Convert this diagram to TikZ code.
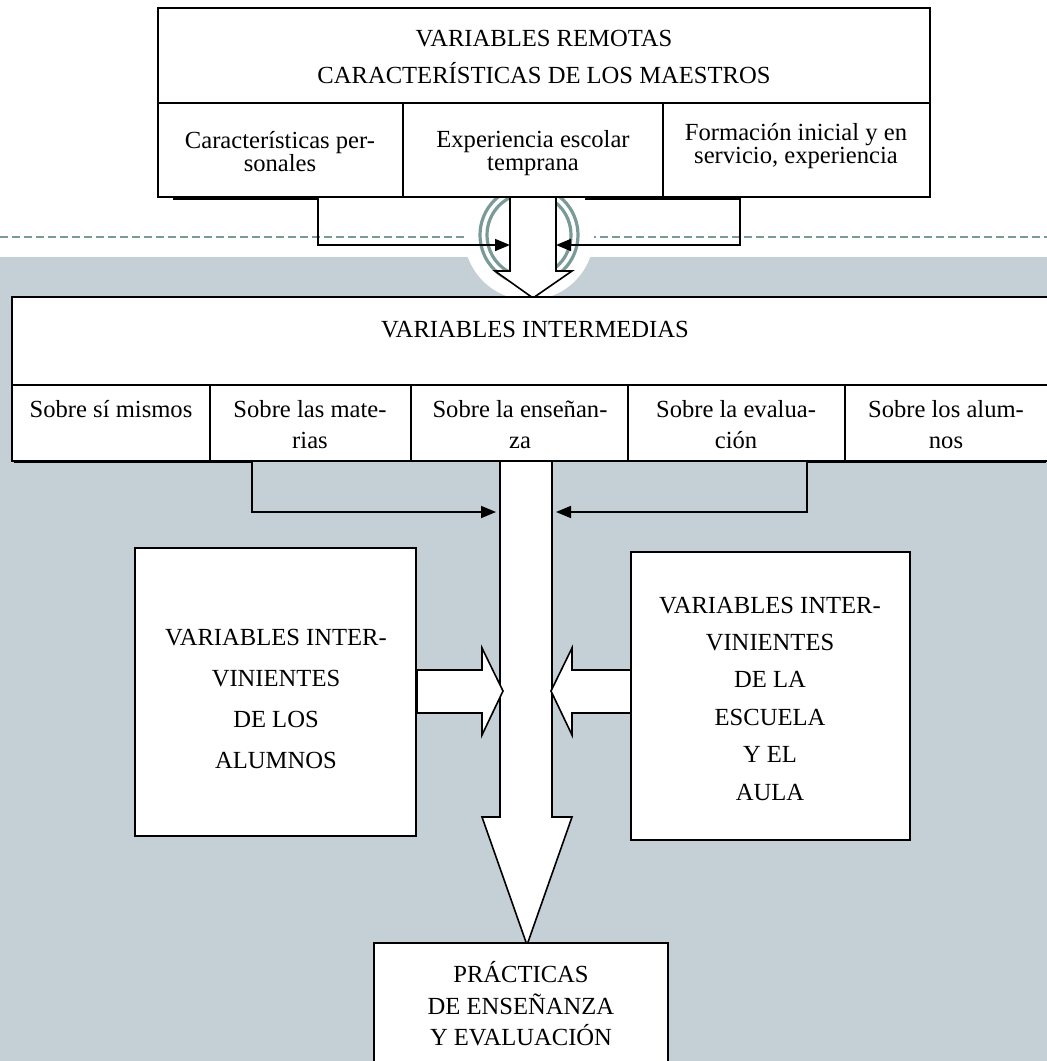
\documentclass[tikz,border=0pt]{standalone}
\usepackage{fontspec}
\setmainfont{Liberation Serif}
\usetikzlibrary{arrows.meta,positioning,calc}
\definecolor{fondo}{RGB}{197,208,214}
\definecolor{verdoso}{RGB}{122,154,152}
\tikzset{
  caja/.style={draw, line width=0.9pt, fill=white},
  bloque/.style={draw, line width=0.8pt, fill=white, line join=miter},
  enlace/.style={draw, line width=0.8pt, -{Triangle[length=7.5pt,width=6pt]}},
  texto/.style={align=center, inner sep=0pt, font=\fontsize{12.3}{#1}\selectfont},
  texto/.default=15
}
\begin{document}
\begin{tikzpicture}[x=0.5pt,y=-0.5pt]
\useasboundingbox (0,0) rectangle (1047,1061);

% fondo y circulo
\draw[verdoso, line width=1pt, dash pattern=on 4pt off 2pt] (0,237) -- (1047,237);
\fill[fondo] (0,257) rectangle (1047,1061);
\fill[white] (529,235) circle[radius=65];
\draw[verdoso, line width=1.6pt] (529,235) circle[radius=49];
\draw[verdoso, line width=1.6pt] (529,235) circle[radius=42];

% flecha de las variables remotas
\draw[bloque] (510,197) -- (556,197) -- (556,271) -- (572,271) -- (533,298)
  -- (495,271) -- (510,271) -- cycle;
\coordinate (entradaA) at (510,245);
\coordinate (entradaB) at (556,245);

% variables remotas
\draw[caja] (158,8) rectangle (930,103);
\draw[caja] (158,103) rectangle (930,197);
\draw[line width=0.9pt] (403,103) -- (403,197);
\draw[line width=0.9pt] (663,103) -- (663,197);
\node[texto=18.5] (remotas) at (544,56.5) {VARIABLES REMOTAS\\CARACTERÍSTICAS DE LOS MAESTROS};
\node[texto=11.8] (personales) at (280,151.5) {Características per-\\sonales};
\node[texto=11.8] (escolar) at (533,153) {Experiencia escolar\\temprana};
\node[texto=11.8] (formacion) at (796,146) {Formación inicial y en\\servicio, experiencia};

\coordinate (salidaA) at (173,199);
\coordinate (salidaB) at (585,199);
\draw[enlace] (salidaA) -- (318,199) |- (entradaA);
\draw[enlace] (salidaB) -- (740,199) |- (entradaB);

% variables intermedias
\draw[caja] (12,297) rectangle (1052,385);
\draw[caja] (12,385) rectangle (1052,461);
\foreach \x in {210,411,628,845}
  \draw[line width=0.9pt] (\x,385) -- (\x,461);
\node[texto] (intermedias) at (535,330) {VARIABLES INTERMEDIAS};
\node[texto] (simismos) at (111,409) {Sobre sí mismos};
\node[texto=15.5] (materias) at (310,424.5) {Sobre las mate-\\rias};
\node[texto=15.5] (ensenanza) at (520,424.5) {Sobre la enseñan-\\za};
\node[texto=15.5] (evaluacion) at (736,424.5) {Sobre la evalua-\\ción};
\node[texto=15.5] (alumnos) at (946,424.5) {Sobre los alum-\\nos};

% flecha central
\draw[bloque] (500,461) -- (552,461) -- (552,817) -- (572,817) -- (527,945)
  -- (482,817) -- (500,817) -- cycle;
\coordinate (entradaC) at (496,512);
\coordinate (entradaD) at (556,512);
\coordinate (salidaC) at (14,462);
\coordinate (salidaD) at (1046,462);
\draw[enlace] (salidaC) -- (252,462) |- (entradaC);
\draw[enlace] (salidaD) -- (807,462) |- (entradaD);

% flechas laterales
\draw[bloque] (417,670) -- (482,670) -- (482,648) -- (503,691) -- (482,735)
  -- (482,713) -- (417,713) -- cycle;
\draw[bloque] (632,670) -- (572,670) -- (572,648) -- (551,691) -- (572,735)
  -- (572,713) -- (632,713) -- cycle;

% variables intervinientes
\draw[caja] (135,548) rectangle (416,836);
\node[texto=20.5] (deAlumnos) at (276,698.5) {VARIABLES INTER-\\VINIENTES\\DE LOS\\ALUMNOS};
\draw[caja] (631,552) rectangle (910,840);
\node[texto=18.7] (deEscuela) at (770,698.5) {VARIABLES INTER-\\VINIENTES\\DE LA\\ESCUELA\\Y EL\\AULA};

% practicas
\draw[caja] (374,943) rectangle (668,1070);
\node[texto=15.75] (practicas) at (521,1004) {PRÁCTICAS\\DE ENSEÑANZA\\Y EVALUACIÓN};
\end{tikzpicture}
\end{document}
